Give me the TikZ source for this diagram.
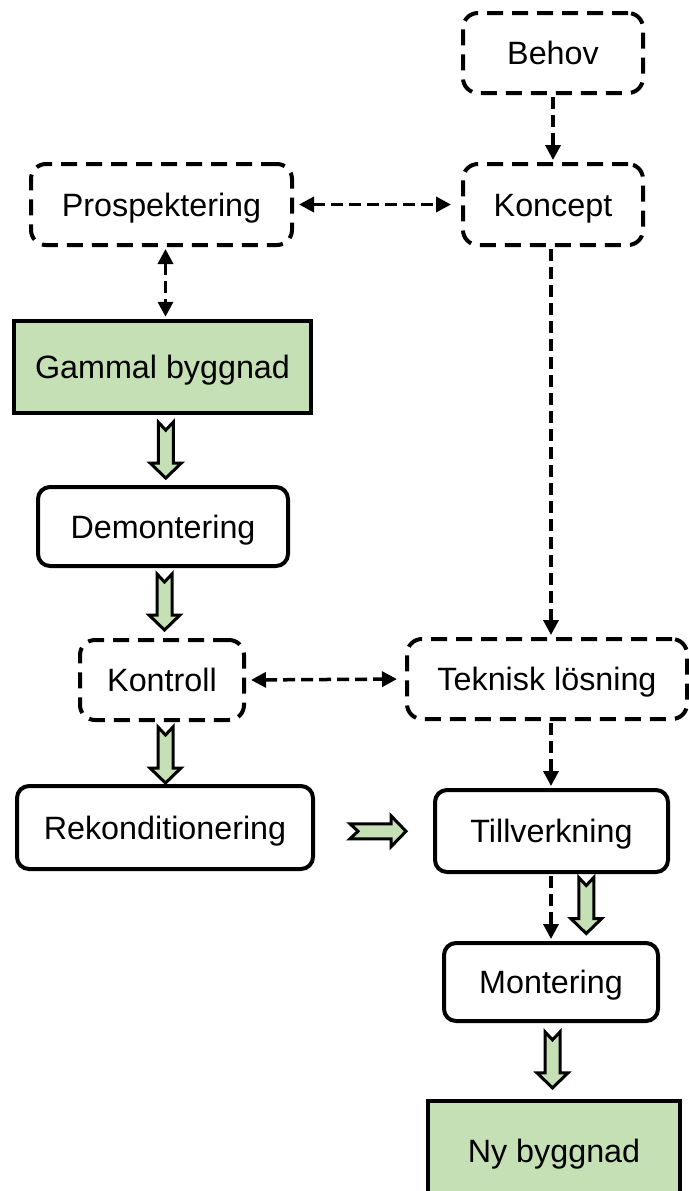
\documentclass[tikz,border=0pt]{standalone}
\usepackage{fontspec}
\setmainfont{Liberation Sans}
\usetikzlibrary{arrows.meta,calc}

\definecolor{leaf}{HTML}{C5E0B4}

\tikzset{
  box/.style={draw=black, line width=4pt, inner sep=0pt, align=center,
    font=\fontsize{32.3}{38}\selectfont, text height=23.1pt, text depth=0pt},
  plainbox/.style={box, rounded corners=12pt},
  dashbox/.style={box, rounded corners=15pt, dash pattern=on 16pt off 9pt},
  greenbox/.style={box, fill=leaf, line width=4.5pt},
  link/.style={line width=3.5pt, dash pattern=on 12pt off 6pt,
    -{Triangle[length=15pt,width=15pt]}, shorten >=2pt, shorten <=2pt},
  twoway/.style={link, {Triangle[length=15pt,width=15pt]}-{Triangle[length=15pt,width=15pt]}},
  notched/.pic={
    \draw[fill=leaf, line width=3pt, line join=miter]
      (-7.5,-28) -- (0,-20) -- (7.5,-28) -- (7.5,13) -- (15.5,13) -- (0,28)
      -- (-15.5,13) -- (-7.5,13) -- cycle;
  }
}

\begin{document}
\begin{tikzpicture}[x=1pt, y=-1pt]
\useasboundingbox (0,0) rectangle (688,1191);

% process boxes
\node[dashbox, minimum width=180pt, minimum height=80pt] (behov) at (553,53) {Behov};
\node[dashbox, minimum width=180pt, minimum height=81pt] (koncept) at (553,204.5) {Koncept};
\node[dashbox, minimum width=261pt, minimum height=81pt] (prosp) at (161.5,204.5) {Prospektering};
\node[greenbox, minimum width=297pt, minimum height=92pt] (gammal) at (162.5,367) {Gammal byggnad};
\node[plainbox, minimum width=250pt, minimum height=79pt] (demont) at (163,526.5) {Demontering};
\node[dashbox, minimum width=164pt, minimum height=80pt] (kontroll) at (162,680) {Kontroll};
\node[dashbox, minimum width=280pt, minimum height=80pt] (teknisk) at (547,679) {Teknisk lösning};
\node[plainbox, minimum width=296pt, minimum height=83pt] (rekond) at (165,827.5) {Rekonditionering};
\node[plainbox, minimum width=233pt, minimum height=82pt] (tillv) at (551.5,831) {Tillverkning};
\node[plainbox, minimum width=214pt, minimum height=78pt] (montering) at (551,982) {Montering};
\node[greenbox, minimum width=252pt, minimum height=100pt] (ny) at (554,1151) {Ny byggnad};

% dashed information links
\draw[link] (behov.south) -- (koncept.north);
\draw[twoway, shorten >=10pt, shorten <=5pt] (prosp.east) -- (koncept.west);
\draw[twoway] ([xshift=4pt]prosp.south) -- ([xshift=4pt]prosp.south |- gammal.north);
\draw[link] ([xshift=-2pt]koncept.south) -- ([xshift=-2pt]koncept.south |- teknisk.north);
\draw[twoway, shorten <=5pt, shorten >=8pt] (kontroll.east) -- (teknisk.west);
\draw[link] ([xshift=-2pt]koncept.south |- teknisk.south) -- ([xshift=-2pt]koncept.south |- tillv.north);
\draw[link] ([xshift=-2pt]koncept.south |- tillv.south) -- ([xshift=-2pt]koncept.south |- montering.north);

% material flow
\pic at ($(gammal.south)!0.5!(demont.north)+(3,0)$) {notched};
\pic at ($(demont.south)!0.5!(kontroll.north)+(2,-1)$) {notched};
\pic at ($(kontroll.south)!0.5!(rekond.north)+(2,2)$) {notched};
\pic[rotate=90] at ($(rekond.east)!0.5!(tillv.west)+(4,2)$) {notched};
\pic at ($(tillv.south)!0.5!(montering.north)+(35,-2)$) {notched};
\pic at ($(montering.south)!0.5!(ny.north)+(0,-1)$) {notched};
\end{tikzpicture}
\end{document}
